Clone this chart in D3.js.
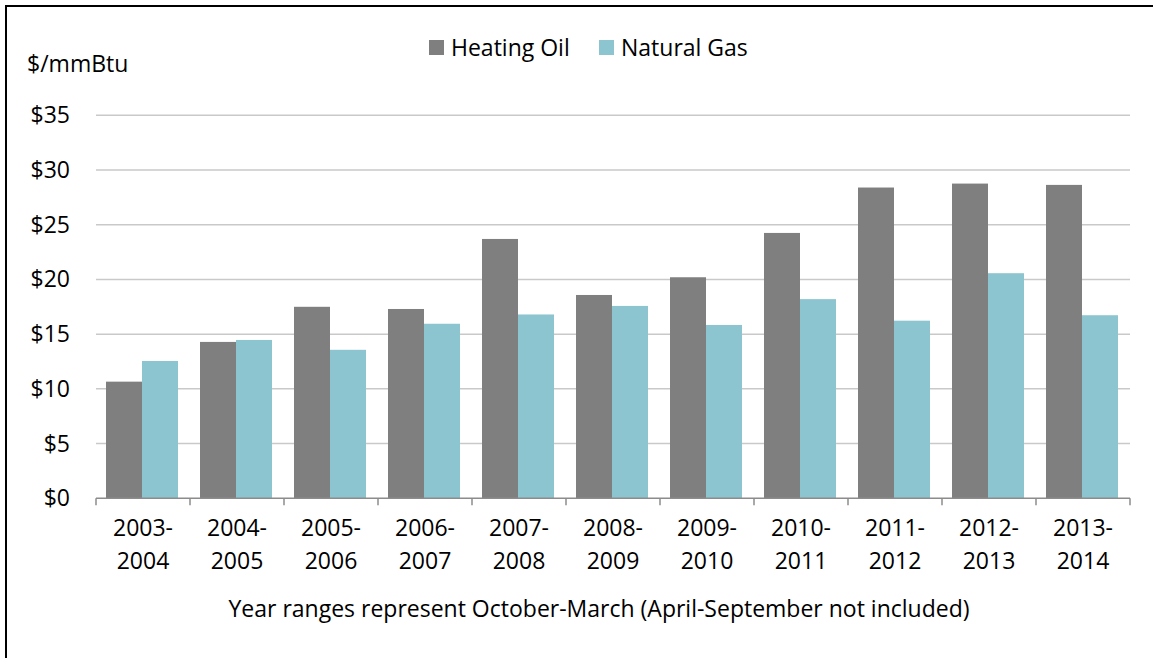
<!DOCTYPE html>
<html><head><meta charset="utf-8">
<script src="https://cdn.jsdelivr.net/npm/d3@7"></script>
<style>body{margin:0;background:#fff;}svg{display:block;}text{font-family:"Open Sans",Lato,sans-serif;fill:#000;}</style>
</head><body>
<svg id="c" width="1153" height="658"></svg>
<script>
const categories = ["2003-2004","2004-2005","2005-2006","2006-2007","2007-2008","2008-2009","2009-2010","2010-2011","2011-2012","2012-2013","2013-2014"];
const seriesNames = ["Heating Oil","Natural Gas"];
const heatingOil = [10.66,14.29,17.5,17.3,23.7,18.58,20.2,24.25,28.4,28.76,28.64];
const naturalGas = [12.55,14.47,13.57,15.95,16.8,17.58,15.84,18.2,16.23,20.57,16.73];
const yTicks = [0,5,10,15,20,25,30,35];
const colors = ["#7f7f7f","#8cc4cf"];
const xTitle = "Year ranges represent October-March (April-September not included)";
const yTitle = "$/mmBtu";

const svg = d3.select("#c");
svg.append("path").attr("d","M6,700 V6 H1200").attr("fill","none").attr("stroke","#000").attr("stroke-width",2);

const pLeft=96, pRight=1130, pTop=115.3, pBottom=498.3;
const FS = 23;
const x = d3.scaleBand().domain(categories).range([pLeft,pRight]).paddingInner(0).paddingOuter(0);
const x1 = d3.scaleBand().domain(seriesNames).range([10, x.bandwidth()-12]).padding(0);
const y = d3.scaleLinear().domain([0,35]).range([pBottom,pTop]);

svg.append("g").selectAll("line").data(yTicks.filter(d=>d>0)).join("line")
  .attr("x1",pLeft).attr("x2",pRight).attr("y1",d=>y(d)).attr("y2",d=>y(d))
  .attr("stroke","#c9c9c9").attr("stroke-width",1.5);

svg.append("g").selectAll("text").data(yTicks).join("text")
  .attr("x",70).attr("y",d=>y(d)).attr("dy","0.35em").attr("text-anchor","end")
  .attr("font-size",FS).text(d=>"$"+d);

const data = categories.map((c,i)=>({c, vals:[heatingOil[i],naturalGas[i]]}));
const g = svg.append("g").selectAll("g").data(data).join("g").attr("transform",d=>`translate(${x(d.c)},0)`);
g.selectAll("rect").data(d=>d.vals.map((v,j)=>({k:seriesNames[j],v,j}))).join("rect")
  .attr("x",d=>x1(d.k)).attr("width",x1.bandwidth())
  .attr("y",d=>y(d.v)).attr("height",d=>pBottom-y(d.v))
  .attr("fill",d=>colors[d.j]);

const xa = svg.append("g").attr("transform",`translate(0,${pBottom})`);
xa.append("line").attr("x1",pLeft).attr("x2",pRight).attr("stroke","#8c8c8c").attr("stroke-width",1.5);
const tickPos = categories.map(c=>x(c)).concat([pRight]);
xa.selectAll("line.t").data(tickPos).join("line").attr("class","t")
  .attr("x1",d=>d).attr("x2",d=>d).attr("y1",0).attr("y2",7).attr("stroke","#8c8c8c").attr("stroke-width",1.5);
const lab = svg.append("g").selectAll("text").data(categories).join("text")
  .attr("text-anchor","middle").attr("font-size",FS);
lab.append("tspan").attr("x",d=>x(d)+x.bandwidth()/2).attr("y",536).text(d=>d.split("-")[0]+"-");
lab.append("tspan").attr("x",d=>x(d)+x.bandwidth()/2).attr("y",569).text(d=>d.split("-")[1]);

svg.append("text").attr("x",(223+975)/2).attr("y",617).attr("text-anchor","middle").attr("font-size",FS).text(xTitle);
svg.append("text").attr("x",27).attr("y",72).attr("font-size",FS).text(yTitle);

const legX=[429,599];
const lg = svg.append("g").selectAll("g").data(seriesNames).join("g").attr("transform",(d,i)=>`translate(${legX[i]},40)`);
lg.append("rect").attr("width",15).attr("height",15).attr("fill",(d,i)=>colors[i]);
lg.append("text").attr("x",22).attr("y",7.5).attr("dy","0.35em").attr("font-size",FS).text(d=>d);
</script>
</body></html>
